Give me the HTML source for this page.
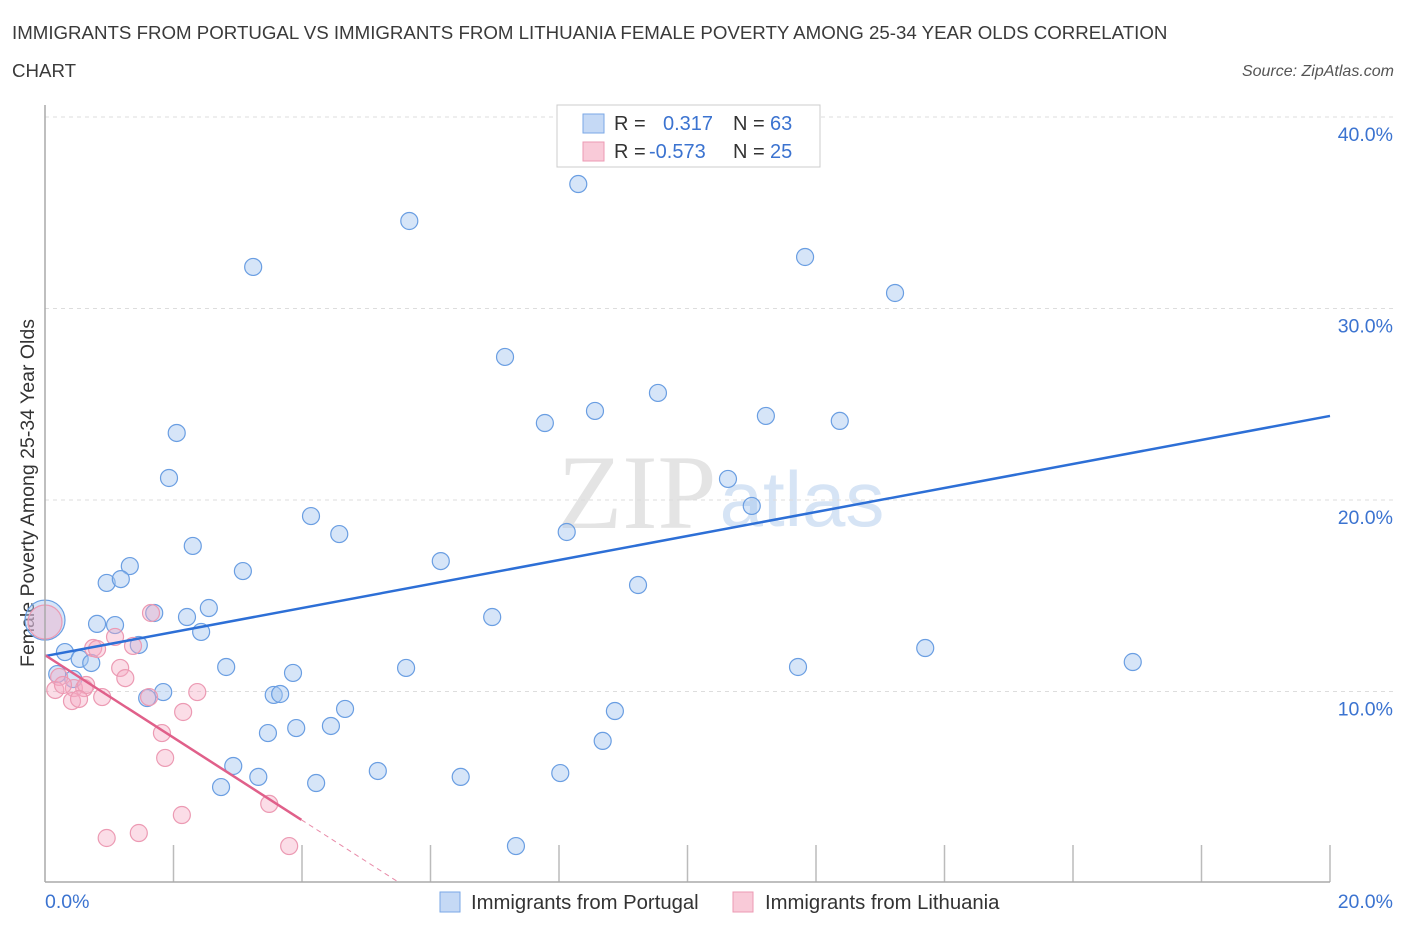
<!DOCTYPE html>
<html><head><meta charset="utf-8"><style>
body{margin:0;background:#fff;font-family:"Liberation Sans",sans-serif;}
</style></head><body>
<svg id="chart" width="1406" height="930" xmlns="http://www.w3.org/2000/svg" font-family="Liberation Sans, sans-serif">
<text x="12" y="39" font-size="18.7" fill="#3a3a3a">IMMIGRANTS FROM PORTUGAL VS IMMIGRANTS FROM LITHUANIA FEMALE POVERTY AMONG 25-34 YEAR OLDS CORRELATION</text>
<text x="12" y="77" font-size="18.7" fill="#3a3a3a">CHART</text>
<text x="1394" y="76" font-size="16" font-style="italic" fill="#555" text-anchor="end">Source: ZipAtlas.com</text>
<text x="637" y="528" font-size="106" font-family="Liberation Serif, serif" fill="#e4e4e4" text-anchor="middle">ZIP</text>
<text x="802" y="526" font-size="78" fill="#d6e4f5" text-anchor="middle">atlas</text>
<text transform="translate(34,493) rotate(-90)" font-size="19.5" fill="#333" text-anchor="middle">Female Poverty Among 25-34 Year Olds</text>
<g id="grid"></g><g id="ticks"></g><g id="pts"></g><g id="lines"></g>
<line x1="45" y1="105" x2="45" y2="882" stroke="#aaa" stroke-width="1.5"/>
<line x1="45" y1="882" x2="1330" y2="882" stroke="#aaa" stroke-width="1.5"/>
<text x="45" y="908" font-size="19.5" fill="#3b73d0">0.0%</text>
<text x="1393" y="908" font-size="19.5" fill="#3b73d0" text-anchor="end">20.0%</text>
<g>
<rect x="557" y="105" width="263" height="62" fill="#fff" stroke="#ccc"/>
<rect x="583" y="114" width="21" height="19" fill="#c5d9f5" stroke="#7aa7e6"/>
<rect x="583" y="142" width="21" height="19" fill="#f9cad8" stroke="#ec9ab3"/>
<text x="614" y="130" font-size="20" fill="#333">R =  <tspan x="663" fill="#3b73d0">0.317</tspan><tspan x="733" fill="#333">N = </tspan><tspan x="770" fill="#3b73d0">63</tspan></text>
<text x="614" y="158" font-size="20" fill="#333">R = <tspan x="649" fill="#3b73d0">-0.573</tspan><tspan x="733" fill="#333">N = </tspan><tspan x="770" fill="#3b73d0">25</tspan></text>
</g>
<g>
<rect x="440" y="892" width="20" height="20" fill="#c5d9f5" stroke="#7aa7e6"/>
<text x="471" y="909" font-size="20.3" fill="#333">Immigrants from Portugal</text>
<rect x="733" y="892" width="20" height="20" fill="#f9cad8" stroke="#ec9ab3"/>
<text x="765" y="909" font-size="20.3" fill="#333">Immigrants from Lithuania</text>
</g>
</svg>
<script>
const yTicks=[10,20,30,40];
const yTickLabels=["10.0%","20.0%","30.0%","40.0%"];
const xTicks=[2,4,6,8,10,12,14,16,18,20];
const blueX=[8.30,5.67,3.24,11.83,13.23,7.16,9.54,8.56,7.78,11.22,12.37,2.05,1.93,10.63,11.00,4.14,4.58,8.12,2.30,6.16,1.32,0.96,1.18,3.08,9.23,2.55,1.70,2.21,6.96,2.43,0.81,1.09,1.46,0.31,0.54,0.72,2.82,3.86,5.62,11.72,13.70,16.93,0.19,0.44,1.84,1.59,3.56,3.66,4.67,8.87,3.91,3.47,4.45,8.68,2.93,3.32,5.18,6.47,8.02,2.74,4.22,7.33,0.0];
const blueY=[36.50,34.57,32.17,32.69,30.81,27.47,25.59,24.65,24.02,24.39,24.13,23.50,21.15,21.10,19.69,19.16,18.22,18.33,17.60,16.81,16.55,15.67,15.87,16.29,15.56,14.36,14.10,13.89,13.89,13.11,13.53,13.47,12.43,12.06,11.70,11.49,11.28,10.97,11.23,11.28,12.27,11.54,10.91,10.65,9.97,9.66,9.82,9.87,9.09,8.98,8.09,7.83,8.20,7.42,6.11,5.54,5.85,5.54,5.74,5.01,5.22,1.93,13.73];
const pinkX=[0.0,0.22,0.45,0.16,0.28,0.61,0.42,0.64,0.53,0.89,0.75,0.81,1.09,1.37,1.65,1.17,1.25,1.62,2.15,2.37,1.82,1.87,2.13,3.49,0.96,1.46,3.80];
const pinkY=[13.63,10.76,10.18,10.08,10.34,10.18,9.50,10.34,9.61,9.71,12.27,12.22,12.85,12.38,14.10,11.23,10.70,9.71,8.93,9.97,7.83,6.53,3.55,4.13,2.35,2.61,1.93];
const blueFit=[11.85,0.627];
const pinkFit=[11.9,-2.155];
const sx=v=>45+v*64.25, sy=v=>883-v*19.15;
const NS="http://www.w3.org/2000/svg";
function mk(p,t,a){const e=document.createElementNS(NS,t);for(const k in a)e.setAttribute(k,a[k]);document.getElementById(p).appendChild(e);return e;}
yTicks.forEach((t,i)=>{
 const g=mk('grid','line',{x1:45,x2:1393,y1:sy(t),y2:sy(t),stroke:'#ddd','stroke-dasharray':'4,4'});
 
 
 const l=mk('grid','text',{x:1393,y:sy(t)+24,'font-size':19.5,fill:'#3b73d0','text-anchor':'end'});
 l.textContent=yTickLabels[i];
 
 
});
xTicks.forEach(t=>{
 const e=mk('ticks','line',{x1:sx(t),x2:sx(t),y1:845,y2:882,stroke:'#bbb','stroke-width':1.5});
 
 
});
blueX.forEach((x,i)=>{
 const big=i===blueX.length-1;
 const c=mk('pts','circle',{cx:sx(x),cy:sy(blueY[i]),r:big?20:8.5,fill:'rgba(165,198,240,0.45)',stroke:'#6a9ee2','stroke-width':1.2});
 
 
});
pinkX.forEach((x,i)=>{
 const big=i===0;
 const c=mk('pts','circle',{cx:sx(x),cy:sy(pinkY[i]),r:big?17:8.5,fill:'rgba(245,170,195,0.4)',stroke:'#ec9ab3','stroke-width':1.2});
 
 
});
const bl=mk('lines','line',{x1:sx(0),y1:sy(blueFit[0]),x2:sx(20),y2:sy(blueFit[0]+20*blueFit[1]),stroke:'#2d6fd6','stroke-width':2.5});


const xe=3.99, xz=-pinkFit[0]/pinkFit[1];
const pl=mk('lines','line',{x1:sx(0),y1:sy(pinkFit[0]),x2:sx(xe),y2:sy(pinkFit[0]+xe*pinkFit[1]),stroke:'#e0608a','stroke-width':2.5});


const pd=mk('lines','line',{x1:sx(xe),y1:sy(pinkFit[0]+xe*pinkFit[1]),x2:sx(xz),y2:sy(0),stroke:'#e88aa8','stroke-width':1,'stroke-dasharray':'5,4'});


</script>
</body></html>
